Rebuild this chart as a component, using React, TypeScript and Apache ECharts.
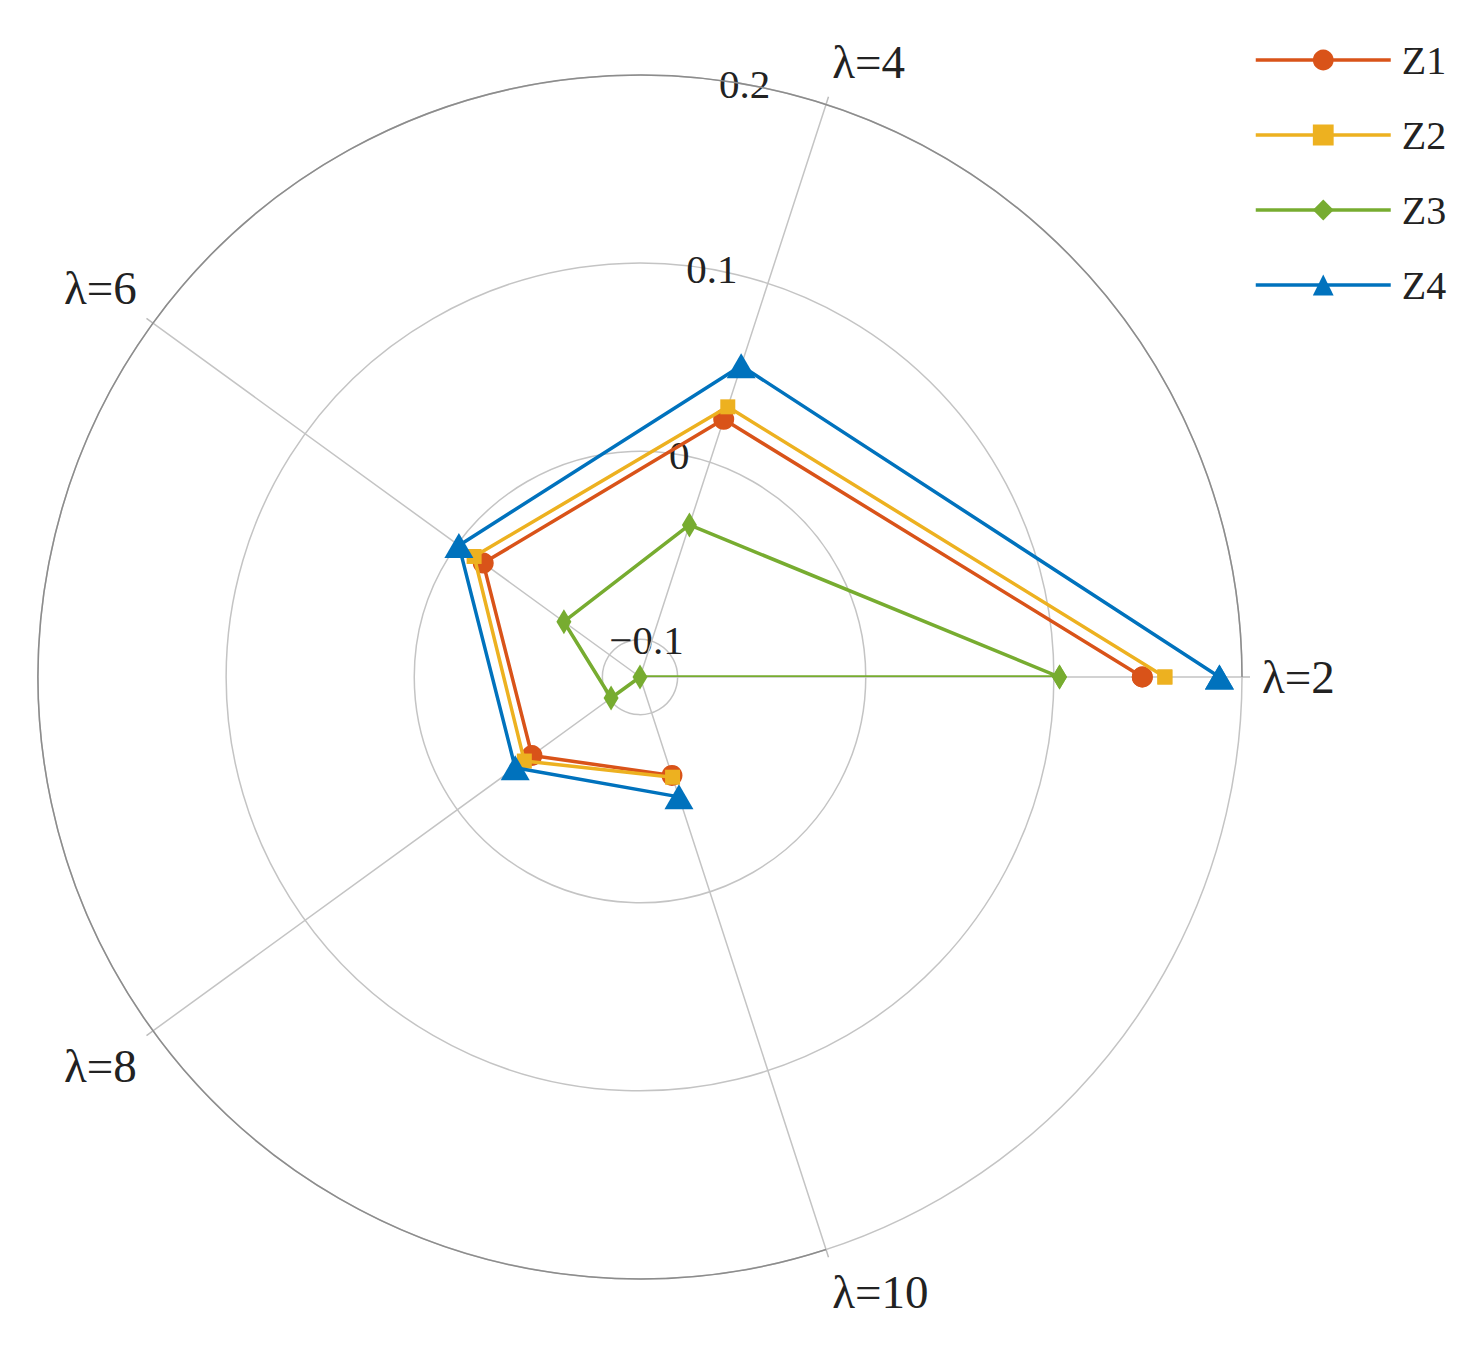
import { useEffect, useRef } from 'react';
import * as echarts from 'echarts';

const categories = ['λ=2', 'λ=4', 'λ=6', 'λ=8', 'λ=10'];
const seriesNames = ['Z1', 'Z2', 'Z3', 'Z4'];
const z1 = [0.147, 0.024, -0.017, -0.049, -0.065];
const z2 = [0.159, 0.031, -0.011, -0.044, -0.064];
const z3 = [0.103, -0.035, -0.07, -0.101, -0.12];
const z4 = [0.188, 0.054, -0.001, -0.038, -0.053];
const radialMin = -0.12;
const radialMax = 0.2;

const allValues = [z1, z2, z3, z4];
const colors = ['#D95319', '#EDB120', '#77AC30', '#0072BD'];
const symbols = ['circle', 'rect', 'diamond', 'triangle'];
const symbolSizes: any[] = [21, 15, [15, 25], [29, 25]];
const FONT = '"Liberation Serif", "Times New Roman", serif';

export default function App() {
  const ref = useRef<HTMLDivElement>(null);
  useEffect(() => {
    if (!ref.current) return;
    const chart = echarts.init(ref.current, null, { renderer: 'svg' });
    const center = [632, 669];
    const radius = 602;
    const option: any = {
      animation: false,
      backgroundColor: '#ffffff',
      polar: [
        { center, radius },
        { center, radius },
      ],
      angleAxis: [
        {
          polarIndex: 0,
          type: 'category',
          data: categories,
          boundaryGap: false,
          startAngle: 0,
          clockwise: false,
          axisLine: { show: true, lineStyle: { color: '#8c8c8c', width: 1.5 } },
          axisTick: { show: true, length: 8, lineStyle: { color: '#bdbdbd', width: 1.5 } },
          splitLine: { show: true, lineStyle: { color: '#c4c4c4', width: 1.5 } },
          axisLabel: { margin: 20, fontFamily: FONT, fontSize: 47, color: '#222' },
          z: 1,
        },
        {
          polarIndex: 1,
          type: 'value',
          min: 0,
          max: 360,
          startAngle: 80,
          clockwise: false,
          show: false,
        },
      ],
      radiusAxis: [
        { polarIndex: 0, min: radialMin, max: radialMax, show: false },
        {
          polarIndex: 1,
          type: 'value',
          min: radialMin,
          max: radialMax,
          splitNumber: 3,
          axisLine: { show: false },
          axisTick: { show: false },
          splitLine: { show: true, lineStyle: { color: '#c4c4c4', width: 1.5 } },
          axisLabel: {
            showMinLabel: false,
            showMaxLabel: true,
            margin: 0,
            align: 'center',
            verticalAlign: 'middle',
            fontFamily: FONT,
            fontSize: 41,
            color: '#222',
            formatter: (v: number) => {
              const r = Math.round(v * 10) / 10;
              return r === 0 ? '0' : String(r).replace('-', '−');
            },
          },
          z: 0,
        },
      ],
      legend: {
        orient: 'vertical',
        left: 1241,
        top: 27,
        itemWidth: 135,
        itemHeight: 26,
        itemGap: 35,
        data: seriesNames,
        lineStyle: { width: 3.5 },
        textStyle: { fontFamily: FONT, fontSize: 40, color: '#222', lineHeight: 40, padding: [0, 0, 0, 6] },
      },
      series: seriesNames.map((name, i) => {
        const vals = allValues[i];
        const data = vals.map((v, j) => [v, categories[j]]);
        data.push([vals[0], categories[0]]);
        return {
          name,
          type: 'line',
          coordinateSystem: 'polar',
          polarIndex: 0,
          data,
          symbol: symbols[i],
          symbolSize: symbolSizes[i],
          showAllSymbol: true,
          lineStyle: { width: 3.5, color: colors[i] },
          itemStyle: { color: colors[i] },
          emphasis: { disabled: true },
          z: 10 + i,
        };
      }),
    };
    chart.setOption(option);
    return () => chart.dispose();
  }, []);
  return <div ref={ref} style={{ width: 1460, height: 1332 }} />;
}
